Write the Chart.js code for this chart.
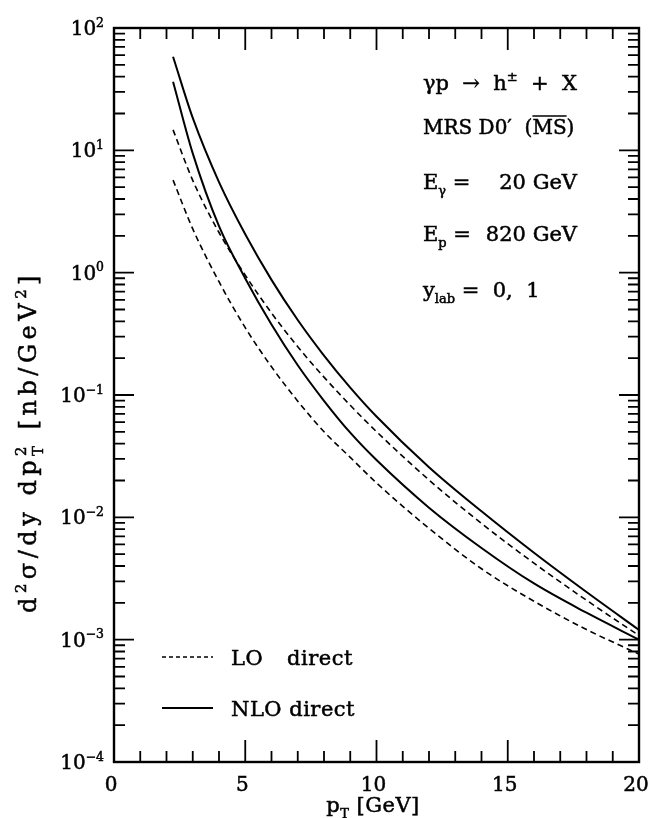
<!DOCTYPE html>
<html>
<head>
<meta charset="utf-8">
<script src="https://cdn.jsdelivr.net/npm/chart.js@4.4.1/dist/chart.umd.min.js"></script>
<style>
  html, body { margin:0; padding:0; background:#fff; }
  canvas { display:block; }
</style>
</head>
<body>
<canvas id="chart" width="652" height="818"></canvas>
<script>
// p_T grid in GeV
const ptValues = [2.25, 3, 4, 5, 6, 7, 8, 9, 10, 12, 14, 16, 18, 20];
// d2sigma/dy dpT2 in nb/GeV^2
const nloUpper = [58.2, 18.4, 5.50, 2.06, 0.873, 0.410, 0.210, 0.115, 0.0667, 0.0257, 0.0112, 0.00513, 0.00245, 0.00120];
const nloLower = [36.4, 9.44, 2.40, 0.897, 0.377, 0.175, 0.0897, 0.0492, 0.0294, 0.0120, 0.00562, 0.00288, 0.00166, 0.00100];
const loUpper  = [14.7, 5.68, 2.13, 0.955, 0.468, 0.248, 0.140, 0.0824, 0.0502, 0.0202, 0.00891, 0.00422, 0.00210, 0.00108];
const loLower  = [5.71, 2.28, 0.843, 0.355, 0.170, 0.0891, 0.0501, 0.0309, 0.0191, 0.00813, 0.00380, 0.00206, 0.00121, 0.000762];

const xTickValues = [0, 5, 10, 15, 20];
const yDecades = [2, 1, 0, -1, -2, -3, -4];

const SERIF = '"DejaVu Serif", "Liberation Serif", serif';
const font = size => size + 'px ' + SERIF;

const LO_DASH = [6, 4];

function points(arr) {
  return ptValues.map((x, i) => ({ x: x, y: arr[i] }));
}

function textWidth(c, s, spacing) {
  if (!spacing) return c.measureText(s).width;
  let w = 0;
  for (const ch of s) w += c.measureText(ch).width + spacing;
  return w;
}

function putText(c, s, x, y, spacing) {
  if (!spacing) { c.fillText(s, x, y); c.strokeText(s, x, y); return; }
  for (const ch of s) {
    c.fillText(ch, x, y);
    c.strokeText(ch, x, y);
    x += c.measureText(ch).width + spacing;
  }
}

// pieces: [text, kind, stacked]; kind '' | 'sub' | 'sup'; stacked draws on top of the previous piece
function drawRich(c, pieces, x, y, size, align, spacing) {
  spacing = spacing || 0;
  const sizes = pieces.map(p => p[1] ? size * 0.62 : size);
  const widths = pieces.map((p, i) => { c.font = font(sizes[i]); return textWidth(c, p[0], spacing); });
  let total = 0;
  pieces.forEach((p, i) => { if (p[2]) total += Math.max(0, widths[i] - widths[i - 1]); else total += widths[i]; });
  let cx = align === 'right' ? x - total : align === 'center' ? x - total / 2 : x;
  const start = cx;
  let prevX = cx;
  const pos = [];
  pieces.forEach((p, i) => {
    c.font = font(sizes[i]);
    const dy = p[1] === 'sub' ? size * 0.28 : p[1] === 'sup' ? -size * 0.42 : 0;
    let px = cx;
    if (p[2]) {
      px = prevX;
      cx = Math.max(cx, prevX + widths[i]);
    } else {
      cx += widths[i];
    }
    putText(c, p[0], px, y + dy, spacing);
    pos.push({ x: px, w: widths[i] });
    prevX = px;
  });
  return { left: start, width: total, pos: pos };
}

const framePlugin = {
  id: 'frame',
  afterDraw(chart) {
    const c = chart.ctx, xs = chart.scales.x, ys = chart.scales.y, a = chart.chartArea;
    c.save();
    c.strokeStyle = '#000';
    c.fillStyle = '#000';
    c.textBaseline = 'alphabetic';

    // box
    c.lineWidth = 2.4;
    c.strokeRect(a.left, a.top, a.right - a.left, a.bottom - a.top);

    // inward ticks
    c.lineWidth = 1.8;
    c.beginPath();
    for (let v = 1; v < 20; v++) {
      const px = xs.getPixelForValue(v);
      const len = v % 5 === 0 ? 22 : 11;
      c.moveTo(px, a.bottom); c.lineTo(px, a.bottom - len);
      c.moveTo(px, a.top); c.lineTo(px, a.top + len);
    }
    for (let d = -4; d < 2; d++) {
      for (let m = 1; m < 10; m++) {
        if (d === -4 && m === 1) continue;
        const py = ys.getPixelForValue(m * Math.pow(10, d));
        const len = m === 1 ? 20 : 11;
        c.moveTo(a.left, py); c.lineTo(a.left + len, py);
        c.moveTo(a.right, py); c.lineTo(a.right - len, py);
      }
    }
    c.stroke();

    // text is slightly emboldened with a thin outline
    c.lineWidth = 0.5;

    // y tick labels
    yDecades.forEach(d => {
      const py = ys.getPixelForValue(Math.pow(10, d));
      drawRich(c, [['10', ''], [String(d).replace('-', '\u2212'), 'sup']], 104, py + 7, 20, 'right');
    });

    // x tick labels
    xTickValues.forEach(v => {
      drawRich(c, [[String(v), '']], xs.getPixelForValue(v) - 3, 791, 20, 'center');
    });

    // axis titles
    drawRich(c, [['p', ''], ['T', 'sub'], [' [GeV]', '']], 373, 812, 21, 'center', 0.5);

    c.save();
    c.translate(28, 442);
    c.rotate(-Math.PI / 2);
    drawRich(c, [['d', ''], ['2', 'sup'], ['\u03c3/dy dp', ''], ['2', 'sup'], ['T', 'sub', true],
                 [' [nb/GeV', ''], ['2', 'sup'], [']', '']], 0, 8, 24, 'center', 4.5);
    c.restore();

    // process / settings block
    const tx = 423;
    drawRich(c, [['\u03b3p  \u2192  h', ''], ['\u00b1', 'sup'], ['  +  X', '']], tx, 90, 21, 'left');
    const r = drawRich(c, [['MRS D0\u2032  (', ''], ['MS', ''], [')', '']], tx, 134, 20, 'left');
    const ms = r.pos[1];
    c.lineWidth = 1.4;
    c.beginPath();
    c.moveTo(ms.x, 116); c.lineTo(ms.x + ms.w, 116);
    c.stroke();
    c.lineWidth = 0.5;
    drawRich(c, [['E', ''], ['\u03b3', 'sub'], [' =', '']], tx, 189, 21, 'left');
    drawRich(c, [['20 GeV', '']], 577, 189, 21, 'right');
    drawRich(c, [['E', ''], ['p', 'sub'], [' =', '']], tx, 241, 21, 'left');
    drawRich(c, [['820 GeV', '']], 577, 241, 21, 'right');
    drawRich(c, [['y', ''], ['lab', 'sub'], [' =  0,  1', '']], tx, 297, 21, 'left');

    // key
    c.lineWidth = 1.4;
    c.setLineDash([4, 3]);
    c.beginPath(); c.moveTo(162, 657); c.lineTo(213, 657); c.stroke();
    c.setLineDash([]);
    c.lineWidth = 1.8;
    c.beginPath(); c.moveTo(162, 708); c.lineTo(213, 708); c.stroke();
    c.lineWidth = 0.5;
    drawRich(c, [['LO', '']], 231, 665, 21, 'left', 0.5);
    drawRich(c, [['direct', '']], 287, 665, 21, 'left', 0.5);
    drawRich(c, [['NLO direct', '']], 231, 716, 21, 'left', 0.5);

    c.restore();
  }
};

const lineStyle = {
  borderColor: '#000',
  pointRadius: 0,
  fill: false,
  cubicInterpolationMode: 'monotone'
};

new Chart(document.getElementById('chart'), {
  type: 'line',
  data: {
    datasets: [
      Object.assign({ label: 'NLO direct', data: points(nloUpper), borderWidth: 2 }, lineStyle),
      Object.assign({ label: 'NLO direct', data: points(nloLower), borderWidth: 2 }, lineStyle),
      Object.assign({ label: 'LO direct', data: points(loUpper), borderWidth: 1.6, borderDash: LO_DASH }, lineStyle),
      Object.assign({ label: 'LO direct', data: points(loLower), borderWidth: 1.6, borderDash: LO_DASH }, lineStyle)
    ]
  },
  options: {
    responsive: false,
    animation: false,
    layout: { padding: { top: 28, right: 13, left: 0, bottom: 0 } },
    plugins: { legend: { display: false }, tooltip: { enabled: false } },
    scales: {
      x: {
        type: 'linear', min: 0, max: 20,
        ticks: { display: false }, grid: { display: false }, border: { display: false },
        afterFit(s) { s.height = 56; }
      },
      y: {
        type: 'logarithmic', min: 1e-4, max: 1e2,
        ticks: { display: false }, grid: { display: false }, border: { display: false },
        afterFit(s) { s.width = 114; }
      }
    }
  },
  plugins: [framePlugin]
});
</script>
</body>
</html>
